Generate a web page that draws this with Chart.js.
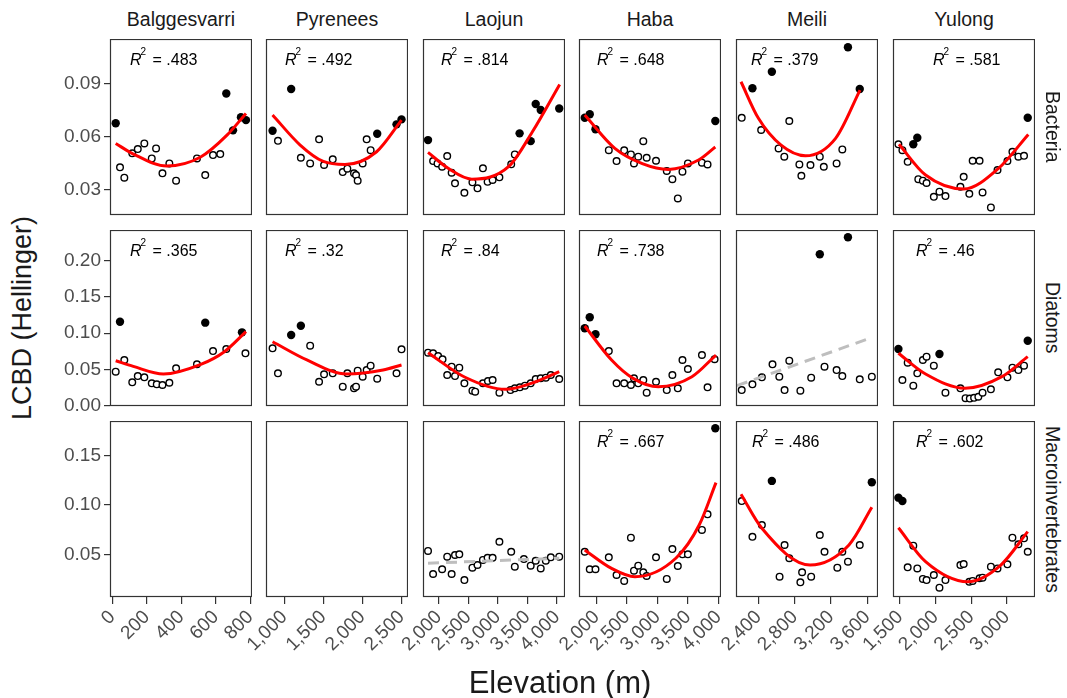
<!DOCTYPE html>
<html>
<head>
<meta charset="utf-8">
<script src="https://cdn.jsdelivr.net/npm/chart.js@4.4.0/dist/chart.umd.min.js"></script>
<style>
body { margin: 0; background: #fff; }
#wrap { position: relative; width: 1067px; height: 698px; overflow: hidden; font-family: 'Liberation Sans', Arial, sans-serif; color: #1a1a1a; }
#wrap canvas { position: absolute; }
.strip { position: absolute; top: 8px; width: 142px; text-align: center; font-size: 19.5px; line-height: 22px; }
.rstrip { position: absolute; left: 1040px; width: 26px; height: 176px; writing-mode: vertical-rl; text-align: center; font-size: 19.5px; line-height: 26px; }
.title { position: absolute; white-space: nowrap; transform: translate(-50%, -50%); }
</style>
</head>
<body>
<div id="wrap"></div>
<script>
const sites = ['Balggesvarri', 'Pyrenees', 'Laojun', 'Haba', 'Meili', 'Yulong'];
const groups = ['Bacteria', 'Diatoms', 'Macroinvertebrates'];

const xTicks = [[0, 200, 400, 600, 800], [1000, 1500, 2000, 2500], [2000, 2500, 3000, 3500, 4000],
    [2000, 2500, 3000, 3500, 4000], [2400, 2800, 3200, 3600], [1500, 2000, 2500, 3000]];
const xMin = [-13, 767, 1732, 1714, 2153, 1402];
const xMax = [810, 2584, 4137, 4039, 3717, 3395];
const yTicks = [[0.03, 0.06, 0.09], [0.00, 0.05, 0.10, 0.15, 0.20], [0.05, 0.10, 0.15]];
const yMin = [0.0155, -0.0008, 0.0071];
const yMax = [0.1151, 0.2429, 0.1848];

const r2Labels = [['.483', '.492', '.814', '.648', '.379', '.581'],
    ['.365', '.32', '.84', '.738', null, '.46'],
    [null, null, null, '.667', '.486', '.602']];

// Bacteria
const bacBalgOpen = [[45, .0425], [70, .0366], [116, .0504], [148, .0528], [186, .0560], [229, .0475], [254, .0532], [291, .0391], [331, .0447], [370, .0349], [491, .0475], [539, .0381], [584, .0494], [626, .0500]];
const bacBalgFilled = [[20, .0674], [661, .0843], [700, .0634], [746, .0708], [775, .0692]];
const bacBalgFit = [[20, .056], [122, .050], [316, .0432], [510, .0482], [665, .0607], [775, .073]];

const bacPyrOpen = [[920, .0575], [1213, .0479], [1332, .0447], [1446, .0583], [1510, .0438], [1621, .0470], [1749, .0398], [1808, .0417], [1893, .0391], [1919, .0381], [1940, .0349], [2004, .0447], [2055, .0583], [2106, .0522]];
const bacPyrFilled = [[851, .0632], [1089, .0868], [2190, .0615], [2437, .0668], [2501, .0696]];
const bacPyrFit = [[851, .0721], [1204, .0551], [1500, .0458], [1778, .0441], [2182, .0513], [2501, .0692]];

const bacLaoOpen = [[1903, .0460], [1978, .0447], [2056, .0428], [2142, .0489], [2217, .0394], [2274, .0334], [2433, .0281], [2569, .0340], [2655, .0306], [2747, .0419], [2826, .0343], [2911, .0353], [3026, .0368], [3226, .0442], [3287, .0498]];
const bacLaoFilled = [[1817, .0579], [3368, .0617], [3556, .0573], [3641, .0783], [3726, .0749], [4039, .0758]];
const bacLaoFit = [[1817, .0509], [2159, .0419], [2559, .0358], [3185, .043], [3585, .0626], [4047, .0894]];

const bacHabOpen = [[2202, .0522], [2329, .0460], [2454, .0521], [2564, .0498], [2614, .0447], [2684, .0485], [2767, .0573], [2822, .0479], [2975, .0462], [3151, .0404], [3243, .0358], [3332, .0249], [3408, .0400], [3497, .0447], [3727, .0451], [3819, .0441]];
const bacHabFilled = [[1808, .0705], [1890, .0725], [1984, .0640], [3946, .0687]];
const bacHabFit = [[1808, .0721], [2301, .0532], [2750, .0446], [3178, .0413], [3671, .0466], [3946, .054]];

const bacMeiOpen = [[2216, .0705], [2430, .0636], [2622, .0532], [2685, .0485], [2740, .0687], [2851, .0441], [2873, .0377], [2973, .0438], [3076, .0485], [3120, .0428], [3261, .0447], [3324, .0526]];
const bacMeiFilled = [[2334, .0872], [2548, .0966], [3386, .1104], [3516, .0868]];
const bacMeiFit = [[2208, .0909], [2400, .0702], [2650, .055], [2917, .049], [3250, .0589], [3519, .0862]];

const bacYulOpen = [[1478, .0555], [1534, .0522], [1608, .0456], [1757, .0358], [1821, .0349], [1873, .0336], [1975, .0258], [2054, .0287], [2138, .0262], [2348, .0315], [2394, .0371], [2473, .0275], [2520, .0462], [2617, .0462], [2659, .0283], [2776, .0198], [2869, .0409], [3008, .0460], [3078, .0513], [3162, .0485], [3241, .0490]];
const bacYulFilled = [[1687, .0555], [1743, .0592], [3293, .0705]];
const bacYulFit = [[1486, .0555], [1859, .0381], [2394, .0302], [2883, .0419], [3301, .0611]];

// Diatoms
const diaBalgOpen = [[20, .0467], [70, .0629], [116, .0320], [148, .0407], [186, .0389], [229, .0306], [258, .0292], [291, .0283], [331, .0314], [370, .0514], [491, .0569], [584, .0753], [661, .0781], [772, .0722]];
const diaBalgFilled = [[45, .1159], [539, .1146], [752, .1012]];
const diaBalgFit = [[20, .0619], [122, .054], [297, .0435], [510, .0565], [650, .0744], [775, .1021]];

const diaPyrOpen = [[851, .0791], [920, .0445], [1332, .0827], [1446, .0328], [1510, .0431], [1621, .0445], [1749, .0259], [1808, .0445], [1893, .0237], [1919, .0259], [1940, .0481], [2004, .0398], [2055, .0490], [2106, .0550], [2190, .0370], [2437, .0445], [2501, .0777]];
const diaPyrFilled = [[1089, .0975], [1213, .1104]];
const diaPyrFit = [[851, .0882], [1290, .0629], [1800, .0435], [2265, .049], [2501, .056]];

const diaLaoOpen = [[1817, .0730], [1903, .0722], [1988, .0684], [2063, .0639], [2142, .0421], [2217, .0536], [2274, .0407], [2347, .0522], [2433, .0306], [2569, .0204], [2616, .0190], [2747, .0306], [2832, .0338], [2911, .0352], [3026, .0176], [3214, .0213], [3287, .0237], [3373, .0251], [3458, .0273], [3556, .0306], [3641, .0366], [3726, .0375], [3812, .0384], [3897, .0421], [4039, .0366]];
const diaLaoFilled = [];
const diaLaoFit = [[1817, .073], [2444, .039], [3128, .0223], [3641, .0328], [4039, .0467]];

const diaHabOpen = [[2202, .0753], [2329, .0306], [2454, .0306], [2564, .0283], [2614, .0375], [2684, .0306], [2767, .0352], [2822, .0176], [2975, .0328], [3151, .0213], [3243, .0421], [3332, .0237], [3408, .0629], [3497, .0504], [3727, .0698], [3819, .0251], [3934, .0639]];
const diaHabFilled = [[1808, .1068], [1890, .1220], [1984, .0985]];
const diaHabFit = [[1808, .110], [2247, .0629], [2600, .0375], [3013, .0259], [3563, .0398], [3957, .0698]];

const diaMeiOpen = [[2216, .0213], [2334, .0292], [2438, .0389], [2555, .0569], [2630, .0398], [2688, .0213], [2740, .0619], [2862, .0204], [2981, .0384], [3128, .0536], [3261, .0490], [3324, .0407], [3516, .0361], [3649, .0398]];
const diaMeiFilled = [[3076, .2093], [3386, .2328]];
const diaMeiTrend = [[2163, .0273], [3656, .0943]];

const diaYulOpen = [[1534, .0352], [1608, .0592], [1687, .0273], [1743, .0445], [1821, .0629], [1873, .0675], [1975, .0550], [2138, .0176], [2348, .0237], [2420, .0100], [2480, .0095], [2540, .0105], [2600, .0120], [2659, .0176], [2776, .0223], [2878, .0458], [3008, .0389], [3078, .0522], [3162, .0490], [3241, .0550]];
const diaYulFilled = [[1478, .0781], [2054, .0712], [3293, .0896]];
const diaYulFit = [[1478, .0722], [1859, .0435], [2415, .0237], [2930, .0398], [3293, .0675]];

// Macroinvertebrates
const macLaoOpen = [[1817, .0536], [1903, .0303], [2056, .0351], [2142, .0478], [2217, .0303], [2274, .0495], [2347, .0502], [2433, .0242], [2569, .0367], [2655, .0394], [2747, .0445], [2826, .0467], [2911, .0467], [3026, .0629], [3226, .0528], [3287, .0377], [3441, .0454], [3556, .0387], [3641, .0437], [3726, .0360], [3812, .0437], [3897, .0472], [4039, .0478]];
const macLaoTrend = [[1817, .0412], [4039, .0462]];

const macHabOpen = [[1808, .0528], [1890, .0351], [1984, .0351], [2202, .0472], [2329, .0293], [2454, .0233], [2564, .0670], [2614, .0337], [2684, .0387], [2767, .0321], [2822, .0283], [2975, .0472], [3151, .0253], [3243, .0555], [3332, .0384], [3408, .0502], [3497, .0502], [3727, .0748], [3819, .0906]];
const macHabFilled = [[3946, .1775]];
const macHabFit = [[1808, .0546], [2247, .0360], [2630, .0276], [3299, .0462], [3682, .0798], [3957, .1226]];

const macMeiOpen = [[2216, .1040], [2334, .0679], [2438, .0798], [2633, .0276], [2688, .0596], [2740, .0462], [2862, .0219], [2881, .0321], [2981, .0276], [3076, .0697], [3128, .0528], [3269, .0367], [3324, .0528], [3386, .0428], [3516, .0596]];
const macMeiFilled = [[2548, .1243], [3649, .1229]];
const macMeiFit = [[2208, .1108], [2438, .0765], [2969, .0394], [3397, .0596], [3649, .0977]];

const macYulOpen = [[1608, .0371], [1687, .0589], [1743, .0360], [1821, .0253], [1873, .0242], [1975, .0293], [2054, .0165], [2138, .0242], [2348, .0394], [2394, .0404], [2473, .0225], [2520, .0233], [2617, .0260], [2659, .0266], [2776, .0377], [2869, .0360], [3008, .0401], [3078, .0670], [3162, .0603], [3241, .0663], [3293, .0528]];
const macYulFilled = [[1478, .1074], [1534, .1040]];
const macYulFit = [[1478, .0770], [1859, .0428], [2450, .0225], [2915, .0394], [3293, .0731]];

// panel table built from the arrays above
const openPts = [[bacBalgOpen, bacPyrOpen, bacLaoOpen, bacHabOpen, bacMeiOpen, bacYulOpen],
    [diaBalgOpen, diaPyrOpen, diaLaoOpen, diaHabOpen, diaMeiOpen, diaYulOpen],
    [[], [], macLaoOpen, macHabOpen, macMeiOpen, macYulOpen]];
const filledPts = [[bacBalgFilled, bacPyrFilled, bacLaoFilled, bacHabFilled, bacMeiFilled, bacYulFilled],
    [diaBalgFilled, diaPyrFilled, diaLaoFilled, diaHabFilled, diaMeiFilled, diaYulFilled],
    [[], [], [], macHabFilled, macMeiFilled, macYulFilled]];
const fitLines = [[bacBalgFit, bacPyrFit, bacLaoFit, bacHabFit, bacMeiFit, bacYulFit],
    [diaBalgFit, diaPyrFit, diaLaoFit, diaHabFit, [], diaYulFit],
    [[], [], [], macHabFit, macMeiFit, macYulFit]];
const trendLines = [[[], [], [], [], [], []],
    [[], [], [], [], diaMeiTrend, []],
    [[], [], macLaoTrend, [], [], []]];

// layout
const colLeft = [110, 266, 423, 579, 736, 893];
const rowTop = [39, 230, 421];
const panelW = 142, panelH = 176, padL = 60, padB = 12, axisH = 70;
const r2Offset = [[20, 19, 18, 18, 15, 40], [20, 19, 18, 18, 0, 23], [0, 0, 0, 18, 16, 23]];
const FONT = "'Liberation Sans', Arial, sans-serif";

Chart.defaults.font.family = FONT;

const wrap = document.getElementById('wrap');

function toXY(arr) {
    return arr.map(p => ({ x: p[0], y: p[1] }));
}

const framePlugin = {
    id: 'frame',
    afterDatasetsDraw(chart, args, opts) {
        const a = chart.chartArea;
        const ctx = chart.ctx;
        ctx.save();
        ctx.strokeStyle = '#333';
        ctx.lineWidth = 1.2;
        ctx.strokeRect(a.left + 0.5, a.top + 0.5, a.right - a.left - 1, a.bottom - a.top - 1);
        if (opts.r2) {
            const x = a.left + opts.offset;
            const y = a.top + 26;
            ctx.fillStyle = '#000';
            ctx.textBaseline = 'alphabetic';
            ctx.font = 'italic 16px ' + FONT;
            ctx.fillText('R', x, y);
            ctx.font = '10px ' + FONT;
            ctx.fillText('2', x + 10.5, y - 10);
            ctx.font = '16px ' + FONT;
            ctx.fillText('= ' + opts.r2, x + 22.5, y);
        }
        ctx.restore();
    }
};

function makePanel(r, c) {
    const showX = r === 2;
    const showY = c === 0;
    const cv = document.createElement('canvas');
    const w = panelW + padL;
    const h = panelH + (showX ? axisH : padB);
    cv.width = w;
    cv.height = h;
    cv.style.left = (colLeft[c] - padL) + 'px';
    cv.style.top = rowTop[r] + 'px';
    wrap.appendChild(cv);

    const tickGrid = { display: true, drawOnChartArea: false, drawTicks: true, tickLength: 6, color: '#333', tickColor: '#333', lineWidth: 1.2 };

    new Chart(cv.getContext('2d'), {
        type: 'scatter',
        data: {
            datasets: [
                { data: toXY(fitLines[r][c]), showLine: true, borderColor: '#ff0000', borderWidth: 3, pointRadius: 0, cubicInterpolationMode: 'monotone', order: 0 },
                { data: toXY(trendLines[r][c]), showLine: true, borderColor: '#bebebe', borderWidth: 3, borderDash: [11, 7], pointRadius: 0, order: 0 },
                { data: toXY(filledPts[r][c]), pointRadius: 4.2, pointBackgroundColor: '#000', pointBorderColor: '#000', pointBorderWidth: 0, order: 1 },
                { data: toXY(openPts[r][c]), pointRadius: 3.3, pointBackgroundColor: '#fff', pointBorderColor: '#000', pointBorderWidth: 1.4, order: 2 }
            ]
        },
        options: {
            responsive: false,
            animation: false,
            events: [],
            devicePixelRatio: 1,
            layout: { autoPadding: false, padding: { left: showY ? 0 : padL, right: 0, top: 0, bottom: showX ? 0 : padB } },
            plugins: {
                legend: { display: false },
                tooltip: { enabled: false },
                frame: { r2: r2Labels[r][c], offset: r2Offset[r][c] }
            },
            scales: {
                x: {
                    type: 'linear',
                    min: xMin[c],
                    max: xMax[c],
                    display: showX,
                    afterBuildTicks: s => { s.ticks = xTicks[c].map(v => ({ value: v })); },
                    ticks: {
                        autoSkip: false, minRotation: 45, maxRotation: 45, padding: 2,
                        color: '#4d4d4d', font: { size: 19 },
                        callback: v => v.toLocaleString('en-US')
                    },
                    grid: Object.assign({}, tickGrid, { tickLength: 7 }),
                    border: { display: false },
                    afterFit: s => {
                        if (!showX) return;
                        s.height = axisH; s.paddingLeft = 0; s.paddingRight = 0;
                    }
                },
                y: {
                    type: 'linear',
                    min: yMin[r],
                    max: yMax[r],
                    display: showY,
                    afterBuildTicks: s => { s.ticks = yTicks[r].map(v => ({ value: v })); },
                    ticks: { padding: 3, color: '#4d4d4d', font: { size: 19 }, callback: v => v.toFixed(2) },
                    grid: tickGrid,
                    border: { display: false },
                    afterFit: s => {
                        if (!showY) return;
                        s.width = padL; s.paddingTop = 0; s.paddingBottom = 0;
                    }
                }
            }
        },
        plugins: [framePlugin]
    });
}

for (let r = 0; r < 3; r++) {
    for (let c = 0; c < 6; c++) {
        makePanel(r, c);
    }
}

sites.forEach((s, c) => {
    const d = document.createElement('div');
    d.className = 'strip';
    d.style.left = colLeft[c] + 'px';
    d.textContent = s;
    wrap.appendChild(d);
});

groups.forEach((g, r) => {
    const d = document.createElement('div');
    d.className = 'rstrip';
    d.style.top = rowTop[r] + 'px';
    d.textContent = g;
    wrap.appendChild(d);
});

const xTitle = document.createElement('div');
xTitle.className = 'title';
xTitle.style.fontSize = '31px';
xTitle.style.left = '560px';
xTitle.style.top = '683px';
xTitle.textContent = 'Elevation (m)';
wrap.appendChild(xTitle);

const yTitle = document.createElement('div');
yTitle.className = 'title';
yTitle.style.fontSize = '27px';
yTitle.style.left = '22px';
yTitle.style.top = '318px';
yTitle.style.transform = 'translate(-50%, -50%) rotate(-90deg)';
yTitle.textContent = 'LCBD (Hellinger)';
wrap.appendChild(yTitle);
</script>
</body>
</html>
